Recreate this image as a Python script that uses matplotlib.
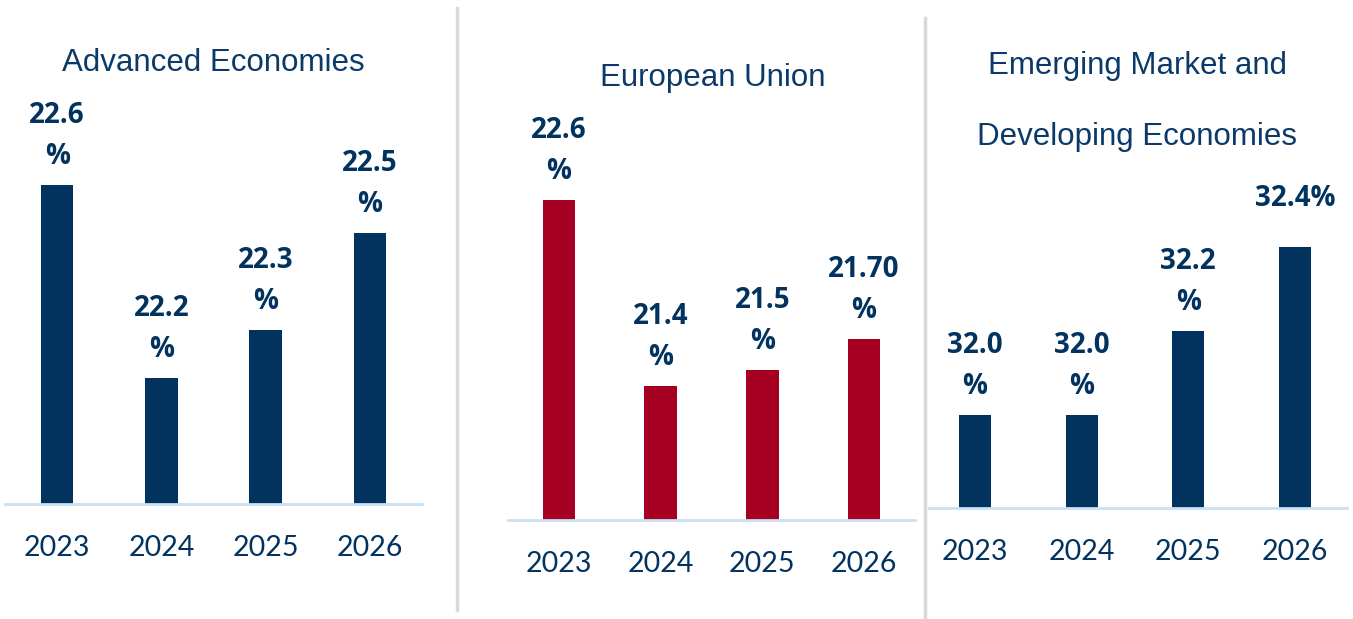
import matplotlib
matplotlib.use("Agg")
import matplotlib.pyplot as plt
from matplotlib.lines import Line2D

years = ["2023", "2024", "2025", "2026"]

adv_values = [22.6, 22.2, 22.3, 22.5]
adv_labels = ["22.6\n%", "22.2\n%", "22.3\n%", "22.5\n%"]

eu_values = [22.6, 21.4, 21.5, 21.7]
eu_labels = ["22.6\n%", "21.4\n%", "21.5\n%", "21.70\n%"]

em_values = [32.0, 32.0, 32.2, 32.4]
em_labels = ["32.0\n%", "32.0\n%", "32.2\n%", "32.4%"]

W, H = 1353, 619
navy = "#02335F"
red = "#A50021"
base_col = "#C8E1F6"
div_col = "#D9D9D9"

fig = plt.figure(figsize=(W / 100, H / 100), dpi=100)
fig.patch.set_facecolor("white")


def fx(x):
    return x / W


def fy(y):
    return 1 - y / H


def panel(x0, x1, ybase, ylo, scale, xl, slot, values, labels, color, barw):
    ax = fig.add_axes([fx(x0), fy(ybase), fx(x1 - x0), ybase / H])
    ax.bar(range(len(values)), values, width=barw, color=color)
    ax.set_ylim(ylo, ylo + ybase / scale)
    ax.set_xlim(xl, xl + (x1 - x0) / slot)
    for s in ["top", "right", "left"]:
        ax.spines[s].set_visible(False)
    ax.spines["bottom"].set_color(base_col)
    ax.spines["bottom"].set_linewidth(2)
    ax.set_yticks([])
    ax.set_xticks(range(len(years)))
    ax.set_xticklabels(years, family=["Liberation Sans Narrow", "Lato"],
                       fontsize=20.5, color=navy)
    ax.tick_params(axis="x", length=0, pad=22)
    ax.patch.set_alpha(0)
    for i, (v, lab) in enumerate(zip(values, labels)):
        ax.annotate(lab, (i, v), xytext=(0, 49), textcoords="offset pixels",
                    ha="center", va="center", fontsize=20, fontweight="bold",
                    family="Open Sans", color=navy, linespacing=1.55)
    return ax


panel(5, 422, 504, 21.94, 484, -0.5, 104.25, adv_values, adv_labels, navy, 0.31)
panel(508, 915, 520, 20.531, 154.6, -0.5, 101.75, eu_values, eu_labels, red, 0.32)
panel(929, 1347, 508, 31.779, 419.5, -0.43, 106.7, em_values, em_labels, navy, 0.30)

title_kw = dict(ha="center", va="center", fontsize=22.5, family="Liberation Sans",
                color="#0B3A6A")
fig.text(fx(213), fy(63), "Advanced Economies", **title_kw)
fig.text(fx(713), fy(78), "European Union", **title_kw)
fig.text(fx(1137), fy(66), "Emerging Market and", **title_kw)
fig.text(fx(1137), fy(137), "Developing Economies", **title_kw)

# divider lines between panels
fig.add_artist(Line2D([fx(457), fx(457)], [fy(8), fy(610)], color=div_col, lw=2.5))
fig.add_artist(Line2D([fx(925), fx(925)], [fy(18), fy(619)], color=div_col, lw=2.5))

fig.savefig("out.png", dpi=100)
